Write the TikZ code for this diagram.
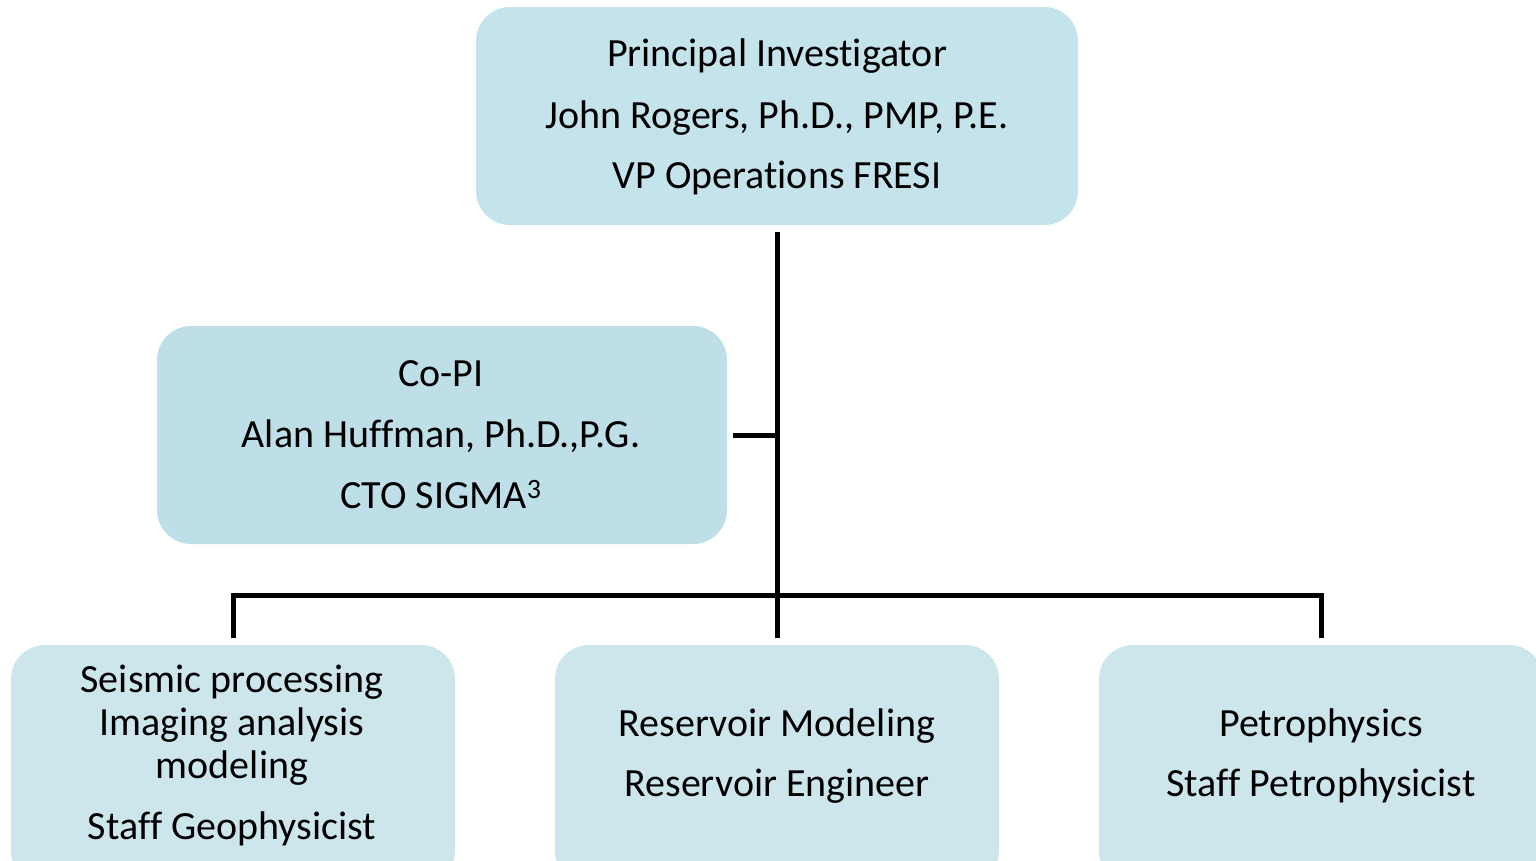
\documentclass[tikz,border=0pt]{standalone}
\usepackage{fontspec}
\setmainfont[Ligatures={NoCommon}]{Carlito}
\definecolor{topfill}{HTML}{C5E3EB}
\definecolor{copifill}{HTML}{BEDFE7}
\definecolor{botfill}{HTML}{CDE6EC}
\begin{document}
\begin{tikzpicture}[x=1pt,y=-1pt,
  box/.style={rounded corners=34pt, inner sep=0pt, draw=none},
  txt/.style={anchor=base, inner sep=0pt, font=\fontsize{40}{48}\selectfont, text=black},
  link/.style={line width=5pt, draw=black, line join=miter}]
\useasboundingbox (0,0) rectangle (1536,860);
\begin{scope}
\clip (0,0) rectangle (1536,860);
% boxes
\node[box, fill=topfill, minimum width=602pt, minimum height=218pt] (pi) at (777,116) {};
\node[box, fill=copifill, minimum width=570pt, minimum height=218pt] (copi) at (442,435) {};
\node[box, fill=botfill, minimum width=444pt, minimum height=240pt] (seis) at (233,765) {};
\node[box, fill=botfill, minimum width=444pt, minimum height=240pt] (res) at (777,765) {};
\node[box, fill=botfill, minimum width=444pt, minimum height=240pt] (petro) at (1321,765) {};
\end{scope}
% texts
\node[txt] (t1) at (777,66) {Principal Investigator};
\node[txt] (t2) at (777,128) {John Rogers, Ph.D., PMP, P.E.};
\node[txt] (t3) at (777,188) {VP Operations FRESI};
\node[txt] (c1) at (441,386) {Co-PI};
\node[txt] (c2) at (441,447) {Alan Huffman, Ph.D.,P.G.};
\node[txt] (c3) at (441,508) {CTO SIGMA\textsuperscript{3}};
\node[txt] (s1) at (232,692) {Seismic processing};
\node[txt] (s2) at (232,735) {Imaging analysis};
\node[txt] (s3) at (232,778) {modeling};
\node[txt] (s4) at (232,839) {Staff Geophysicist};
\node[txt] (r1) at (777,736) {Reservoir Modeling};
\node[txt] (r2) at (777,796) {Reservoir Engineer};
\node[txt] (p1) at (1321,736) {Petrophysics};
\node[txt] (p2) at (1321,796) {Staff Petrophysicist};
% connectors
\coordinate (bus) at (777,595);
\draw[link, shorten <=7pt, shorten >=7pt] (pi.south) -- (res.north);
\draw[link, shorten <=6pt] (copi.east) -- (copi.east -| pi.south);
\draw[link, shorten <=7pt, shorten >=7pt] (seis.north) |- (bus) -| (petro.north);
\end{tikzpicture}
\end{document}
